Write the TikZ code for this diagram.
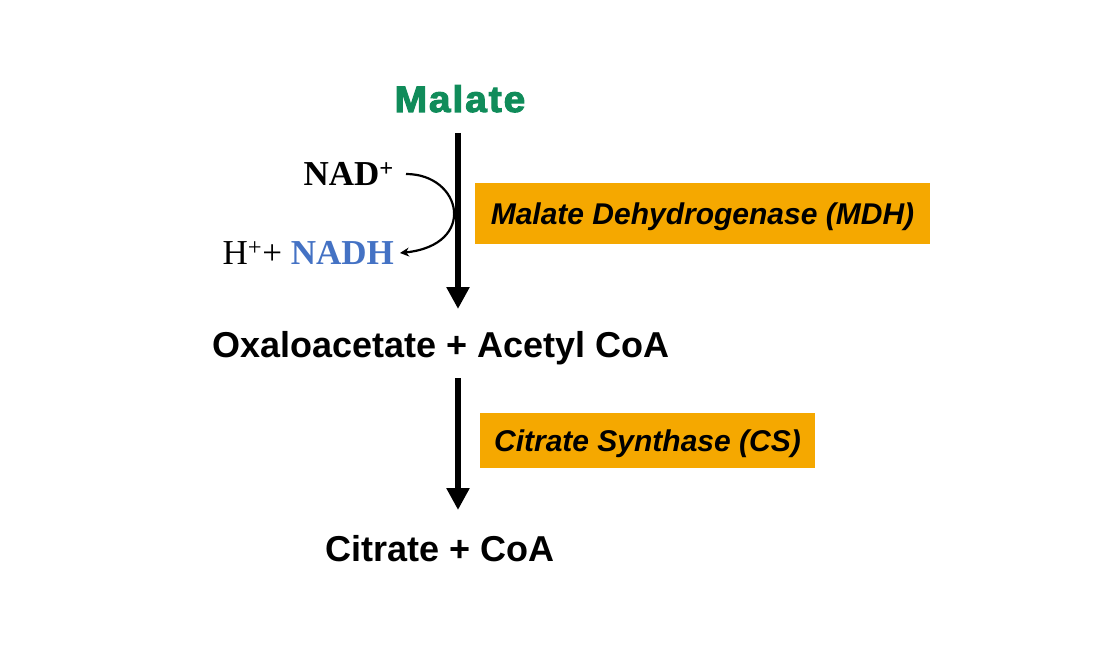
\documentclass[tikz,border=0pt]{standalone}
\usepackage{fontspec}
\setmainfont{Liberation Serif}
\newfontfamily\arialf{Liberation Sans}
\newfontfamily\blackf{Liberation Sans Bold}[FakeBold=2.8, LetterSpace=5]
\usetikzlibrary{arrows.meta}
\definecolor{malgreen}{RGB}{16,140,90}
\definecolor{enzorange}{RGB}{245,168,0}
\definecolor{nadblue}{RGB}{68,114,196}
\tikzset{
  compound/.style={font=\arialf\bfseries\fontsize{36}{40}\selectfont, inner sep=0pt},
  enzyme/.style={fill=enzorange, font=\arialf\bfseries\itshape\fontsize{30}{34}\selectfont, inner sep=0pt, text depth=0pt},
  mainarrow/.style={line width=6pt, -{Triangle[width=22pt,length=22pt]}},
  cofactor/.style={font=\fontsize{35}{40}\selectfont, inner sep=0pt},
  sidearrow/.style={line width=2.2pt, -{Stealth[width=9pt,length=9pt]}}
}
\begin{document}
\begin{tikzpicture}[x=1pt,y=-1pt]
\useasboundingbox (0,0) rectangle (1094,668);
\node[compound, text=malgreen, font=\blackf\fontsize{37}{40}\selectfont, anchor=base] (malate) at (460,112) {\scalebox{1.05}[1]{Malate}};
\node[compound] (oxa) at (441,348) {Oxaloacetate + Acetyl CoA};
\node[compound] (cit) at (440,549) {Citrate + CoA};
\coordinate (a1s) at (458,133);
\coordinate (a1e) at (458,309);
\coordinate (a2s) at (458,378);
\coordinate (a2e) at (458,510);
\draw[mainarrow] (a1s) -- (a1e);
\draw[mainarrow] (a2s) -- (a2e);
\node[enzyme, minimum width=455pt, minimum height=61pt] (mdh) at (702.5,213.5) {Malate Dehydrogenase (MDH)};
\node[enzyme, minimum width=335pt, minimum height=55pt] (cs) at (647.5,440.5) {Citrate Synthase (CS)};
\node[cofactor, anchor=base east] (nad) at (394,186) {\textbf{NAD\textsuperscript{+}}};
\node[cofactor, anchor=base east] (nadh) at (394,265) {H\textsuperscript{+}+ \textcolor{nadblue}{\textbf{NADH}}};
\draw[sidearrow] ([xshift=12pt,yshift=12pt]nad.base east) .. controls (462,174) and (478,245) .. ([xshift=6pt,yshift=12pt]nadh.base east);
\end{tikzpicture}
\end{document}
